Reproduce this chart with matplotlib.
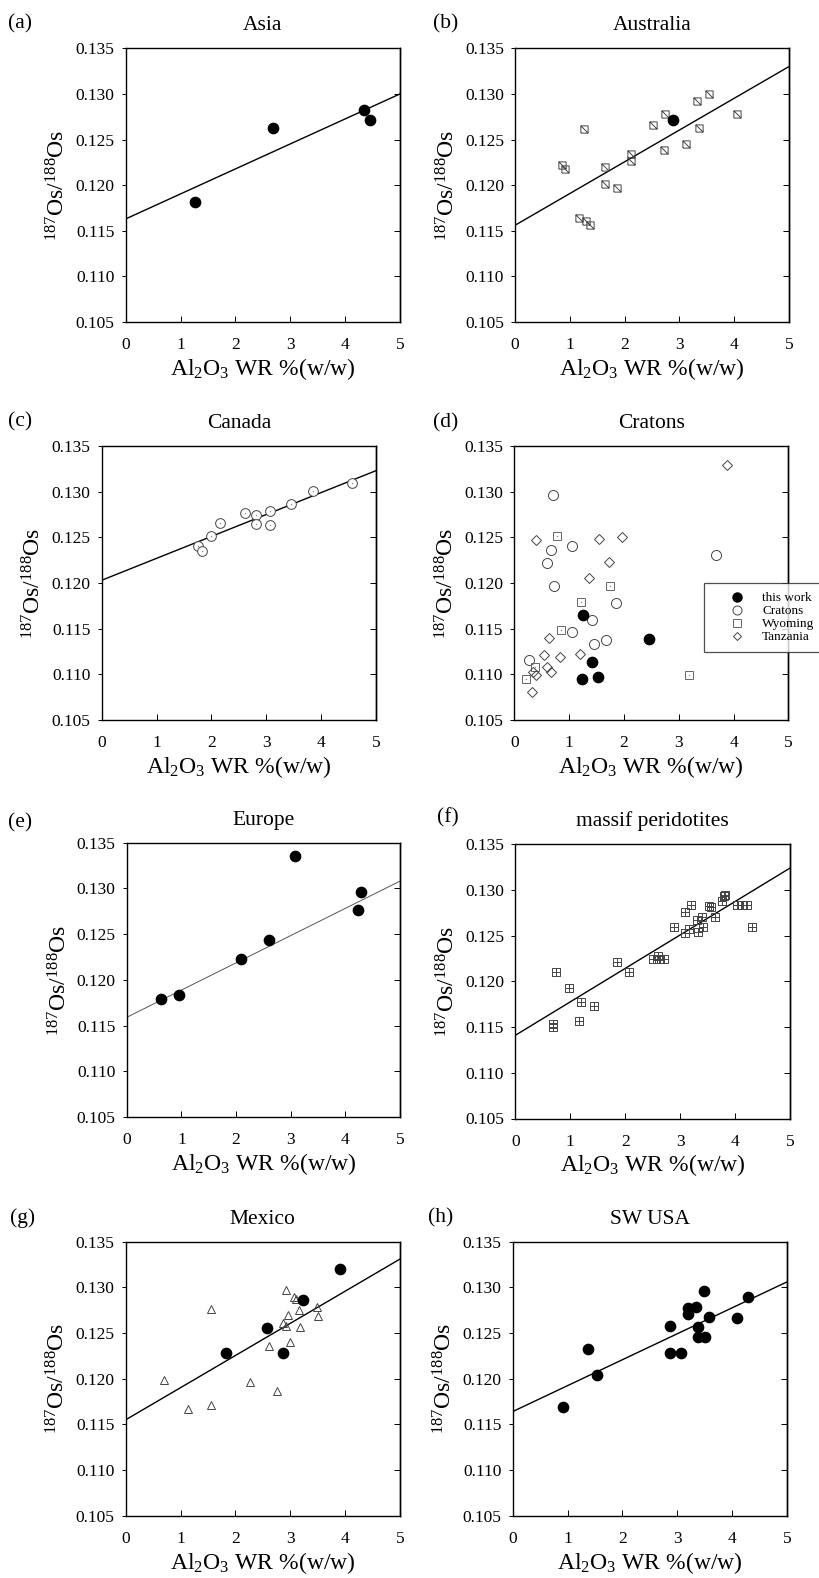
import matplotlib
matplotlib.use('Agg')
import matplotlib.pyplot as plt
from matplotlib.path import Path
from matplotlib.lines import Line2D

plt.rcParams['font.family'] = ['Liberation Serif', 'DejaVu Serif']
plt.rcParams['mathtext.fontset'] = 'custom'
plt.rcParams['mathtext.rm'] = 'Liberation Serif'
plt.rcParams['mathtext.it'] = 'Liberation Serif:italic'
plt.rcParams['mathtext.bf'] = 'Liberation Serif:bold'

# ---------------- data ----------------
x_ticks = [0, 1, 2, 3, 4, 5]
y_ticks = [0.105, 0.110, 0.115, 0.120, 0.125, 0.130, 0.135]
fit_x = [0, 5]

asia_x = [1.27, 2.68, 4.34, 4.45]
asia_y = [0.1182, 0.1263, 0.1282, 0.1271]
asia_fit = [0.1163, 0.1300]

aus_this_x = [2.89]
aus_this_y = [0.1271]
aus_x = [0.85, 0.92, 1.25, 1.17, 1.30, 1.37, 1.64, 1.65, 1.87, 2.12, 2.11,
         2.51, 2.74, 2.71, 3.12, 3.33, 3.35, 3.54, 4.06]
aus_y = [0.1222, 0.1218, 0.1261, 0.1164, 0.1161, 0.1156, 0.1220, 0.1201,
         0.1197, 0.1234, 0.1227, 0.1266, 0.1278, 0.1238, 0.1245, 0.1292,
         0.1263, 0.1300, 0.1278]
aus_fit = [0.1156, 0.1330]

can_x = [1.76, 1.82, 1.99, 2.15, 2.62, 2.81, 2.81, 3.07, 3.06, 3.45, 3.86, 4.56]
can_y = [0.1241, 0.1235, 0.1251, 0.1266, 0.1277, 0.1274, 0.1265, 0.1279,
         0.1264, 0.1286, 0.1301, 0.1309]
can_fit = [0.1203, 0.1323]

crat_this_x = [1.26, 1.41, 1.24, 1.52, 2.45]
crat_this_y = [0.1165, 0.1114, 0.1095, 0.1097, 0.1139]
crat_x = [0.70, 0.67, 0.60, 0.73, 1.06, 1.06, 1.41, 1.45, 1.68, 1.86, 0.26, 3.68]
crat_y = [0.1296, 0.1236, 0.1222, 0.1197, 0.1240, 0.1146, 0.1159, 0.1133,
          0.1138, 0.1178, 0.1116, 0.1231]
wyo_x = [0.78, 1.74, 1.21, 0.85, 0.38, 0.21, 3.18]
wyo_y = [0.1252, 0.1197, 0.1179, 0.1149, 0.1108, 0.1095, 0.1099]
tan_x = [0.40, 1.54, 1.97, 1.73, 1.36, 0.64, 0.55, 0.84, 1.20, 0.59, 0.67,
         0.35, 0.39, 0.32, 3.89]
tan_y = [0.1247, 0.1248, 0.1250, 0.1223, 0.1205, 0.1140, 0.1121, 0.1119,
         0.1122, 0.1108, 0.1103, 0.1103, 0.1099, 0.1081, 0.1329]
crat_labels = ['this work', 'Cratons', 'Wyoming', 'Tanzania']

eur_x = [0.63, 0.96, 2.10, 2.60, 3.08, 4.24, 4.29]
eur_y = [0.1179, 0.1183, 0.1223, 0.1244, 0.1335, 0.1276, 0.1296]
eur_fit = [0.1159, 0.1308]

mas_x = [0.68, 0.68, 0.74, 0.98, 1.19, 1.16, 1.43, 1.85, 2.07, 2.51, 2.59,
         2.61, 2.71, 2.89, 3.09, 3.09, 3.19, 3.17, 3.31, 3.33, 3.40, 3.42,
         3.53, 3.57, 3.64, 3.77, 3.80, 3.81, 4.04, 4.13, 4.22, 4.31]
mas_y = [0.1153, 0.1150, 0.1210, 0.1193, 0.1178, 0.1157, 0.1173, 0.1221,
         0.1210, 0.1225, 0.1228, 0.1224, 0.1225, 0.1259, 0.1253, 0.1276,
         0.1284, 0.1257, 0.1267, 0.1254, 0.1271, 0.1259, 0.1282, 0.1281,
         0.1271, 0.1288, 0.1293, 0.1295, 0.1284, 0.1284, 0.1284, 0.1260]
mas_fit = [0.1141, 0.1324]

mex_this_x = [1.82, 2.58, 2.86, 3.23, 3.91]
mex_this_y = [0.1228, 0.1256, 0.1228, 0.1286, 0.1320]
mex_x = [0.69, 1.13, 1.55, 1.56, 2.27, 2.62, 2.76, 2.92, 2.87, 2.92, 2.95,
         2.99, 3.06, 3.10, 3.15, 3.17, 3.49, 3.51]
mex_y = [0.1199, 0.1167, 0.1276, 0.1171, 0.1196, 0.1236, 0.1186, 0.1297,
         0.1261, 0.1258, 0.1270, 0.1240, 0.1289, 0.1287, 0.1275, 0.1257,
         0.1279, 0.1269]
mex_fit = [0.1155, 0.1331]

usa_x = [0.92, 1.38, 1.54, 2.87, 2.87, 3.07, 3.19, 3.19, 3.35, 3.37, 3.37,
         3.48, 3.51, 3.58, 4.08, 4.29]
usa_y = [0.1169, 0.1232, 0.1204, 0.1258, 0.1228, 0.1228, 0.1277, 0.1271,
         0.1278, 0.1257, 0.1246, 0.1296, 0.1246, 0.1268, 0.1266, 0.1289]
usa_fit = [0.1164, 0.1306]

# ---------------- figure ----------------
W, H = 819, 1578
fig = plt.figure(figsize=(W / 100, H / 100), dpi=100)

def px_axes(left, top, right, bottom):
    return fig.add_axes([left / W, 1 - bottom / H, (right - left) / W, (bottom - top) / H])

# custom markers
sq_diag = Path([(-1, -1), (1, -1), (1, 1), (-1, 1), (-1, -1), (-1, 1), (1, -1)],
               [Path.MOVETO, Path.LINETO, Path.LINETO, Path.LINETO, Path.LINETO,
                Path.MOVETO, Path.LINETO])
sq_plus = Path([(-1, -1), (1, -1), (1, 1), (-1, 1), (-1, -1), (0, -1), (0, 1), (-1, 0), (1, 0)],
               [Path.MOVETO, Path.LINETO, Path.LINETO, Path.LINETO, Path.LINETO,
                Path.MOVETO, Path.LINETO, Path.MOVETO, Path.LINETO])

GREY = '#444444'

def style(ax, title, tag, tag_xy, ylab_x=-0.222):
    ax.set_xlim(0, 5)
    ax.set_ylim(0.105, 0.135)
    ax.set_xticks(x_ticks)
    ax.set_xticklabels([str(v) for v in x_ticks])
    ax.set_yticks(y_ticks)
    ax.set_yticklabels([f'{v:.3f}' for v in y_ticks])
    ax.tick_params(axis='x', direction='in', length=4, width=0.7, pad=11,
                   labelsize=12.5, top=False)
    ax.tick_params(axis='y', direction='out', length=3, width=0.7, pad=5,
                   labelsize=12.5, right=False)
    sec = ax.secondary_yaxis('right')
    sec.set_yticks(y_ticks)
    sec.tick_params(axis='y', direction='in', length=4, width=0.7, labelright=False)
    for s in ax.spines.values():
        s.set_linewidth(1.0)
    sec.spines['right'].set_linewidth(1.0)
    ax.set_title(title, fontsize=15.5, pad=13)
    ax.set_xlabel(r'Al$_2$O$_3$ WR %(w/w)', fontsize=17)
    ax.xaxis.label.set_va('baseline')
    ax.xaxis.set_label_coords(0.5, -0.193)
    ax.set_ylabel(r'$^{187}$Os/$^{188}$Os', fontsize=17)
    ax.yaxis.label.set_va('baseline')
    ax.yaxis.set_label_coords(ylab_x, 0.5)
    fig.text(tag_xy[0] / W, 1 - tag_xy[1] / H, tag, fontsize=15.5, ha='left', va='baseline')

def fit_line(ax, vals, color='black', lw=1.0):
    ax.plot(fit_x, vals, color=color, lw=lw, zorder=2)

def centre_dots(ax, xs, ys):
    ax.plot(xs, ys, linestyle='none', marker='o', ms=1.0, mfc='#888888',
            mec='none', zorder=4)

filled = dict(linestyle='none', marker='o', ms=7.4, mfc='black', mec='black', zorder=3)

# (a) Asia
ax = px_axes(125.7, 48.3, 400, 322)
fit_line(ax, asia_fit)
ax.plot(asia_x, asia_y, **filled)
style(ax, 'Asia', '(a)', (8, 28))

# (b) Australia
ax = px_axes(515, 48.3, 789, 322)
fit_line(ax, aus_fit)
ax.plot(aus_x, aus_y, linestyle='none', marker=sq_diag, ms=5.2, mfc='none',
        mec=GREY, mew=0.7, zorder=3)
ax.plot(aus_this_x, aus_this_y, **filled)
style(ax, 'Australia', '(b)', (433, 28))

# (c) Canada
ax = px_axes(101.7, 446, 376, 720)
fit_line(ax, can_fit)
ax.plot(can_x, can_y, linestyle='none', marker='o', ms=7.0, mfc='white',
        mec=GREY, mew=0.7, zorder=3)
centre_dots(ax, can_x, can_y)
style(ax, 'Canada', '(c)', (8, 426))

# (d) Cratons
ax = px_axes(514.3, 446, 788.3, 720)
ax.plot(crat_x, crat_y, linestyle='none', marker='o', ms=7.2, mfc='none',
        mec=GREY, mew=0.7, zorder=3)
ax.plot(wyo_x, wyo_y, linestyle='none', marker='s', ms=6.4, mfc='none',
        mec='#666666', mew=0.7, zorder=3)
centre_dots(ax, wyo_x, wyo_y)
ax.plot(tan_x, tan_y, linestyle='none', marker='D', ms=4.6, mfc='none',
        mec=GREY, mew=0.7, zorder=3)
ax.plot(crat_this_x, crat_this_y, **filled)
style(ax, 'Cratons', '(d)', (433, 427))
handles = [
    Line2D([], [], linestyle='none', marker='o', ms=6.5, mfc='black', mec='black'),
    Line2D([], [], linestyle='none', marker='o', ms=6.5, mfc='none', mec=GREY, mew=0.7),
    Line2D([], [], linestyle='none', marker='s', ms=6.0, mfc='none', mec='#666666', mew=0.7),
    Line2D([], [], linestyle='none', marker='D', ms=4.4, mfc='none', mec=GREY, mew=0.7),
]
leg = ax.legend(handles, crat_labels, loc='upper left',
                bbox_to_anchor=(704 / W, 1 - 583 / H), bbox_transform=fig.transFigure,
                fontsize=9.5, frameon=True, fancybox=False, handlelength=3.6,
                handletextpad=0.1, labelspacing=0.05, borderpad=0.7,
                borderaxespad=0, edgecolor='#222222')
leg.get_frame().set_linewidth(0.9)
leg.set_zorder(10)

# (e) Europe
ax = px_axes(126.7, 842.7, 400, 1117)
fit_line(ax, eur_fit, color='#555555', lw=0.7)
ax.plot(eur_x, eur_y, **filled)
style(ax, 'Europe', '(e)', (8, 827))

# (f) massif peridotites
ax = px_axes(515.3, 844.3, 790, 1118.5)
fit_line(ax, mas_fit)
ax.plot(mas_x, mas_y, linestyle='none', marker=sq_plus, ms=5.2, mfc='none',
        mec=GREY, mew=0.7, zorder=3)
style(ax, 'massif peridotites', '(f)', (437, 822))

# (g) Mexico
ax = px_axes(125.7, 1241.7, 400, 1515.7)
fit_line(ax, mex_fit)
ax.plot(mex_x, mex_y, linestyle='none', marker='^', ms=6.2, mfc='none',
        mec=GREY, mew=0.7, zorder=3)
ax.plot(mex_this_x, mex_this_y, **filled)
style(ax, 'Mexico', '(g)', (10, 1223))

# (h) SW USA
ax = px_axes(512.7, 1241.7, 787, 1515.7)
fit_line(ax, usa_fit)
ax.plot(usa_x, usa_y, **filled)
style(ax, 'SW USA', '(h)', (428, 1222))

fig.savefig('out.png', dpi=100)
